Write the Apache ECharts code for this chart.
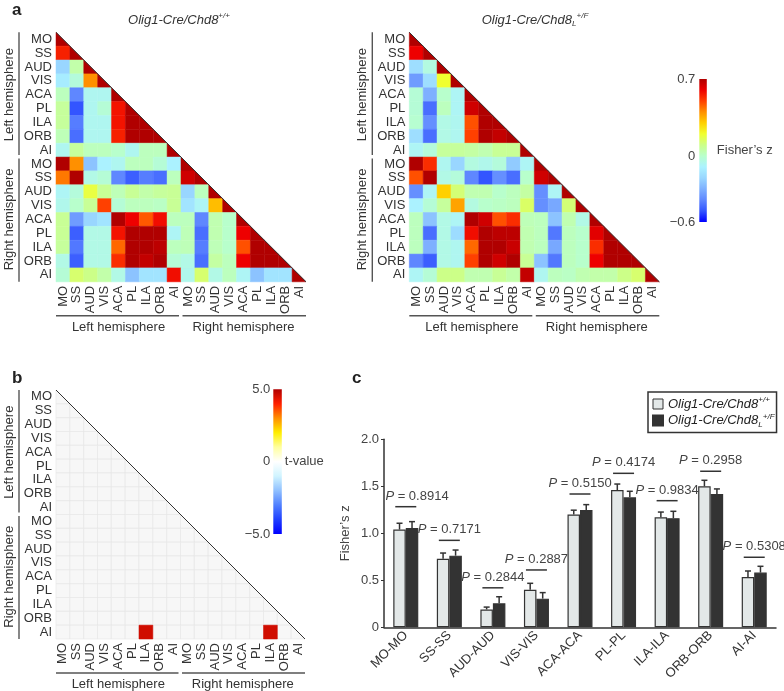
<!DOCTYPE html>
<html><head><meta charset="utf-8">
<script src="https://cdn.jsdelivr.net/npm/echarts@6/dist/echarts.min.js"></script>
<style>html,body{margin:0;padding:0;background:#fff}#c{width:784px;height:691px}</style>
</head><body><div id="c"></div>
<script>
// ---------------- data ----------------
const regions = ['MO','SS','AUD','VIS','ACA','PL','ILA','ORB','AI'];
const hemispheres = ['Left hemisphere','Right hemisphere'];

// Fisher's z, lower triangle (row r has r+1 values), Olig1-Cre/Chd8+/+
const zWT = [
 [0.7],
 [0.55,0.7],
 [-0.2,0.05,0.7],
 [-0.12,-0.03,0.4,0.7],
 [0.02,-0.4,-0.07,-0.07,0.7],
 [0.07,-0.5,-0.07,-0.02,0.57,0.7],
 [0.07,-0.42,-0.07,-0.07,0.57,0.7,0.7],
 [0.03,-0.45,-0.07,-0.07,0.55,0.7,0.7,0.7],
 [-0.07,0.07,0.02,0.02,0.0,-0.07,0.02,0.02,0.7],
 [0.7,0.4,-0.25,-0.1,-0.07,0.02,0.02,-0.02,-0.1,0.7],
 [0.43,0.7,-0.05,-0.02,-0.4,-0.48,-0.42,-0.45,0.02,0.65,0.7],
 [-0.08,-0.03,0.18,0.08,0.03,0.08,0.05,0.07,0.08,-0.2,0.02,0.7],
 [-0.06,0.0,0.08,0.5,-0.02,0.02,0.02,0.01,0.08,-0.15,-0.08,0.33,0.7],
 [0.08,-0.35,-0.2,-0.15,0.7,0.6,0.47,0.58,0.02,0.02,-0.4,0.04,0.0,0.7],
 [0.08,-0.48,-0.05,-0.05,0.57,0.7,0.7,0.7,-0.08,0.03,-0.45,0.04,0.0,0.6,0.7],
 [0.07,-0.43,-0.05,-0.05,0.45,0.7,0.7,0.68,0.02,0.03,-0.42,0.03,0.0,0.48,0.7,0.7],
 [-0.05,-0.48,-0.05,-0.05,0.53,0.7,0.67,0.7,-0.02,-0.05,-0.45,0.06,0.02,0.6,0.7,0.7,0.7],
 [-0.02,0.13,0.1,0.05,-0.05,-0.25,-0.15,-0.15,0.58,-0.06,0.13,-0.05,0.02,-0.08,-0.25,-0.15,-0.15,0.7]
];
// Fisher's z, Olig1-Cre/Chd8L+/F
const zMut = [
 [0.7],
 [0.6,0.7],
 [-0.17,-0.04,0.7],
 [-0.35,-0.17,0.2,0.7],
 [-0.02,-0.3,0.0,-0.08,0.7],
 [-0.02,-0.45,0.02,-0.08,0.65,0.7],
 [-0.01,-0.38,-0.05,-0.07,0.48,0.7,0.7],
 [-0.17,-0.45,-0.05,-0.07,0.5,0.7,0.67,0.7],
 [-0.08,-0.03,0.07,0.07,0.06,0.04,0.08,0.08,0.7],
 [0.7,0.53,-0.07,-0.2,-0.04,-0.06,-0.03,-0.23,-0.08,0.7],
 [0.48,0.7,-0.05,-0.03,-0.4,-0.5,-0.38,-0.45,0.0,0.65,0.7],
 [-0.38,-0.08,0.3,0.12,0.04,0.04,0.0,0.02,0.06,-0.38,-0.08,0.7],
 [-0.1,-0.02,0.07,0.37,-0.04,0.0,0.01,0.02,0.14,-0.38,-0.32,0.12,0.7],
 [0.02,-0.25,-0.05,-0.08,0.7,0.65,0.48,0.53,0.03,0.02,-0.25,0.04,-0.05,0.7],
 [0.02,-0.45,-0.05,-0.18,0.58,0.7,0.68,0.68,0.04,0.02,-0.43,0.02,0.0,0.62,0.7],
 [0.02,-0.3,-0.05,-0.07,0.45,0.7,0.7,0.66,0.04,0.02,-0.32,0.02,0.0,0.53,0.7,0.7],
 [-0.4,-0.48,-0.05,-0.07,0.5,0.7,0.65,0.7,0.08,-0.25,-0.43,0.02,0.0,0.6,0.7,0.7,0.7],
 [-0.08,-0.02,0.1,0.1,0.04,0.04,0.08,0.05,0.67,-0.07,0.02,0.01,0.04,0.05,0.05,0.1,0.13,0.7]
];
// significant t-values: [row, col, t]
const tSig = [[17,6,4.6],[17,15,4.6]];
const zRange = [-0.6, 0.7];
const tRange = [-5, 5];
const zTickVals = [-0.6, 0, 0.7];
const tTickVals = [-5, 0, 5];

const pairs = ['MO-MO','SS-SS','AUD-AUD','VIS-VIS','ACA-ACA','PL-PL','ILA-ILA','ORB-ORB','AI-AI'];
const wtMean = [1.04,0.73,0.19,0.40,1.20,1.46,1.17,1.50,0.535];
const wtErr  = [0.067,0.06,0.025,0.068,0.046,0.064,0.056,0.064,0.064];
const mutMean = [1.057,0.762,0.255,0.305,1.248,1.383,1.16,1.418,0.582];
const mutErr  = [0.067,0.06,0.07,0.064,0.057,0.064,0.074,0.054,0.067];
const pVals = ['0.8914','0.7171','0.2844','0.2887','0.5150','0.4174','0.9834','0.2958','0.5308'];
const pLineY = [1.283,0.925,0.42,0.61,1.418,1.638,1.347,1.66,0.745];
const barTicks = {min:0, max:2, interval:0.5};

// ---------------- styling ----------------
const FF = "'Liberation Sans', Arial, Helvetica, sans-serif";
const TXT = '#333';
const zColors = ['#0000ff','#3355ff','#5f87ff','#7eb0ff','#99d6ff','#abf2ff','#b8ffcc','#ccff88','#f0ff30','#ffd000','#ff9000','#ff4000','#ee0000','#b00000'];
const tColors = ['#0000ff','#2040ff','#5080ff','#90c0ff','#d0f4ff','#ffffff','#ffffa0','#ffee00','#ff9000','#ff2000','#b00000'];
const BAR_W = 12.5;

const labels18 = regions.concat(regions);
function triData(m){ const d=[]; m.forEach((row,r)=>row.forEach((v,c)=>d.push([c,r,v]))); return d; }
const n18 = labels18.length;
const bgCells = []; for (let r=0;r<n18;r++) for (let c=0;c<=r;c++) bgCells.push([c,r]);

function cellRender(params, api){
  const xi = api.value(0), yi = api.value(1);
  const p = api.coord([xi, yi]); const s = api.size([1,1]);
  const x0 = p[0]-s[0]/2, y0 = p[1]-s[1]/2;
  const color = api.visual('color');
  if (xi === yi) {
    return {type:'polygon', shape:{points:[[x0,y0],[x0,y0+s[1]],[x0+s[0],y0+s[1]]]}, style:{fill:color, stroke:color, lineWidth:0.5}};
  }
  return {type:'rect', shape:{x:x0,y:y0,width:s[0],height:s[1]}, style:{fill:color, stroke:color, lineWidth:0.5}};
}
function bgRender(params, api){
  const xi = api.value(0), yi = api.value(1);
  const p = api.coord([xi, yi]); const s = api.size([1,1]);
  const x0 = p[0]-s[0]/2, y0 = p[1]-s[1]/2;
  const st = {fill:'#f7f7f7', stroke:'#e6e6e6', lineWidth:0.6};
  if (xi === yi) return {type:'polygon', shape:{points:[[x0,y0],[x0,y0+s[1]],[x0+s[0],y0+s[1]]]}, style:st};
  return {type:'rect', shape:{x:x0,y:y0,width:s[0],height:s[1]}, style:st};
}
function diagRender(params, api){
  const a = api.value(0), b = api.value(1);
  const s = api.size([1,1]);
  const p0 = api.coord([a,a]), p1 = api.coord([b,b]);
  return {type:'line', shape:{x1:p0[0]-s[0]/2, y1:p0[1]-s[1]/2, x2:p1[0]+s[0]/2, y2:p1[1]+s[1]/2}, style:{stroke:'#333', lineWidth:1}};
}
function bracketRender(params, api){
  const a = api.value(0), b = api.value(1), dir = api.value(2);
  const s = api.size([1,1]);
  const pa = api.coord([a,a]), pb = api.coord([b,b]);
  const g0 = a === 0 ? 0 : 1.5, g1 = a === 0 ? -2 : 0;
  const st = {stroke:'#555', lineWidth:1.4};
  if (dir === 0) {
    const y = api.coord([0, n18-1])[1] + s[1]/2 + 34;
    return {type:'line', shape:{x1:pa[0]-s[0]/2+g0, y1:y, x2:pb[0]+s[0]/2+g1, y2:y}, style:st};
  }
  const x = api.coord([0,0])[0] - s[0]/2 - 37;
  return {type:'line', shape:{x1:x, y1:pa[1]-s[1]/2+g0, x2:x, y2:pb[1]+s[1]/2+g1}, style:st};
}
function cbarRender(colors){
  return function(params, api){
    const lo = api.value(1), hi = api.value(2);
    const pt = api.coord([0,hi]), pb = api.coord([0,lo]);
    const w = api.size([1,0])[0];
    const rev = colors.slice().reverse();
    const stops = rev.map((c,k)=>({offset:k/(rev.length-1), color:c}));
    return {type:'rect', shape:{x:pt[0]-w/2, y:pt[1], width:w, height:pb[1]-pt[1]},
      style:{fill:new echarts.graphic.LinearGradient(0,0,0,1,stops)}};
  };
}
function errRender(params, api){
  const i = api.value(0), m = api.value(1), e = api.value(2), sIdx = api.value(3);
  const p0 = api.coord([i,m]), p1 = api.coord([i,m+e]);
  const x = p0[0] + (sIdx === 0 ? -1 : 1) * BAR_W/2;
  const st = {stroke:'#333', lineWidth:1.5};
  return {type:'group', children:[
    {type:'line', shape:{x1:x,y1:p0[1],x2:x,y2:p1[1]}, style:st},
    {type:'line', shape:{x1:x-3,y1:p1[1],x2:x+3,y2:p1[1]}, style:st}
  ]};
}
function pRender(params, api){
  const i = api.value(0), yv = api.value(1);
  const p = api.coord([i,yv]);
  const band = api.size([1,0])[0];
  const left0 = api.coord([0,0])[0] - band/2;
  const tx = Math.max(p[0], left0 + 33);
  return {type:'group', children:[
    {type:'line', shape:{x1:p[0]-10.5,y1:p[1],x2:p[0]+10.5,y2:p[1]}, style:{stroke:'#333', lineWidth:1.5}},
    {type:'text', style:{text:'{i|P} = '+pVals[params.dataIndex], x:tx, y:p[1]-10.5, align:'center', verticalAlign:'middle',
      fontSize:13, fontFamily:FF, fill:'#444', rich:{i:{fontStyle:'italic', fontSize:13, fontFamily:FF, fill:'#444'}}}}
  ]};
}

// ---------------- layout ----------------
const heatGrids = [
  {left:56, top:32.3, width:250, height:249.5},
  {left:409.3, top:32.3, width:250, height:249.5},
  {left:56, top:390, width:249, height:249}
];
const grid = heatGrids.concat([
  {left:384, top:439.3, width:392, height:188},
  {left:699.3, top:79, width:7.5, height:143},
  {left:273.3, top:389.3, width:8.5, height:144.7}
]);
const xAxis = [], yAxis = [];
heatGrids.forEach((g,gi)=>{
  xAxis.push({gridIndex:gi, type:'category', data:labels18, position:'bottom', axisLine:{show:false}, axisTick:{show:false}, splitLine:{show:false},
    axisLabel:{interval:0, rotate:90, margin:4, fontSize:13, color:TXT, fontFamily:FF}});
  xAxis.push({gridIndex:gi, type:'category', data:hemispheres, position:'bottom', offset:31, axisLine:{show:false}, axisTick:{show:false},
    axisLabel:{interval:0, margin:8, fontSize:13, color:TXT, fontFamily:FF}});
  yAxis.push({gridIndex:gi, type:'category', data:labels18, inverse:true, axisLine:{show:false}, axisTick:{show:false}, splitLine:{show:false},
    axisLabel:{interval:0, margin:4, fontSize:13, color:TXT, fontFamily:FF}});
  yAxis.push({gridIndex:gi, type:'category', data:hemispheres, inverse:true, position:'left', offset:32, axisLine:{show:false}, axisTick:{show:false},
    axisLabel:{interval:0, rotate:90, margin:8, fontSize:13, color:TXT, fontFamily:FF}});
});
// bar chart axes (x6, y6)
xAxis.push({gridIndex:3, type:'category', data:pairs, axisLine:{lineStyle:{color:'#333', width:1.5}}, axisTick:{show:false},
  axisLabel:{interval:0, rotate:45, margin:6, fontSize:13, color:TXT, fontFamily:FF}});
yAxis.push({gridIndex:3, type:'value', min:barTicks.min, max:barTicks.max, interval:barTicks.interval,
  axisLine:{show:true, lineStyle:{color:'#333', width:1.5}}, axisTick:{show:true, length:3, lineStyle:{color:'#333'}}, splitLine:{show:false},
  axisLabel:{margin:5, fontSize:13, color:'#444', fontFamily:FF, formatter:v=> v===0 ? '0' : v.toFixed(1)},
  name:'Fisher’s z', nameLocation:'middle', nameGap:32, nameTextStyle:{fontSize:13, color:'#444', fontFamily:FF}});
// colorbar axes
const fmtZ = v => v===0 ? '0' : (v<0 ? '\u2212'+Math.abs(v).toFixed(1) : v.toFixed(1));
xAxis.push({gridIndex:4, type:'category', data:['z'], show:false});
xAxis.push({gridIndex:5, type:'category', data:['t'], show:false});
yAxis.push({gridIndex:4, type:'value', min:zRange[0], max:zRange[1], axisLine:{show:false}, axisTick:{show:false}, splitLine:{show:false},
  axisLabel:{customValues:zTickVals, formatter:fmtZ, margin:4, fontSize:13, color:'#444', fontFamily:FF}});
yAxis.push({gridIndex:4, type:'value', position:'right', min:zRange[0], max:zRange[1], axisLine:{show:false}, axisTick:{show:false}, splitLine:{show:false},
  axisLabel:{show:false}, name:'Fisher’s z', nameLocation:'middle', nameRotate:0, nameGap:10, nameTextStyle:{fontSize:13, color:'#444', fontFamily:FF}});
yAxis.push({gridIndex:5, type:'value', min:tRange[0], max:tRange[1], axisLine:{show:false}, axisTick:{show:false}, splitLine:{show:false},
  axisLabel:{customValues:tTickVals, formatter:fmtZ, margin:3, fontSize:13, color:'#444', fontFamily:FF}});
yAxis.push({gridIndex:5, type:'value', position:'right', min:tRange[0], max:tRange[1], axisLine:{show:false}, axisTick:{show:false}, splitLine:{show:false},
  axisLabel:{show:false}, name:'t-value', nameLocation:'middle', nameRotate:0, nameGap:3, nameTextStyle:{fontSize:13, color:'#444', fontFamily:FF}});

const bracketData = [[0,8,0],[9,17,0],[0,8,1],[9,17,1]];
const series = [];
function heatSeries(ai, data){
  series.push({type:'custom', xAxisIndex:ai, yAxisIndex:ai, renderItem:cellRender, data:data, silent:true, clip:false, z:2});
  series.push({type:'custom', xAxisIndex:ai, yAxisIndex:ai, renderItem:diagRender, data:[[0,n18-1]], silent:true, clip:false, z:3});
  series.push({type:'custom', xAxisIndex:ai, yAxisIndex:ai, renderItem:bracketRender, data:bracketData, silent:true, clip:false, z:3});
}
heatSeries(0, triData(zWT));          // 0,1,2
heatSeries(2, triData(zMut));         // 3,4,5
series.push({type:'custom', xAxisIndex:4, yAxisIndex:4, renderItem:bgRender, data:bgCells, silent:true, clip:false, z:1}); // 6
series.push({type:'custom', xAxisIndex:4, yAxisIndex:4, renderItem:cellRender, data:tSig.map(d=>[d[1],d[0],d[2]]), silent:true, clip:false, z:2}); // 7
series.push({type:'custom', xAxisIndex:4, yAxisIndex:4, renderItem:diagRender, data:[[0,n18-1]], silent:true, clip:false, z:3}); // 8
series.push({type:'custom', xAxisIndex:4, yAxisIndex:4, renderItem:bracketRender, data:bracketData, silent:true, clip:false, z:3}); // 9
series.push({name:'WT', type:'bar', xAxisIndex:6, yAxisIndex:6, data:wtMean, barWidth:BAR_W, barGap:'0%',
  itemStyle:{color:'#e3e8e8', borderColor:'#333', borderWidth:1.2}, silent:true}); // 10
series.push({name:'Mut', type:'bar', xAxisIndex:6, yAxisIndex:6, data:mutMean, barWidth:BAR_W, barGap:'0%',
  itemStyle:{color:'#333', borderColor:'#333', borderWidth:1.2}, silent:true}); // 11
series.push({type:'custom', xAxisIndex:6, yAxisIndex:6, renderItem:errRender, silent:true, clip:false, z:5,
  data: wtMean.map((m,i)=>[i,m,wtErr[i],0]).concat(mutMean.map((m,i)=>[i,m,mutErr[i],1]))}); // 12
series.push({type:'custom', xAxisIndex:6, yAxisIndex:6, renderItem:pRender, silent:true, clip:false, z:5,
  data: pLineY.map((v,i)=>[i,v])}); // 13
series.push({type:'custom', xAxisIndex:7, yAxisIndex:7, renderItem:cbarRender(zColors), data:[[0,zRange[0],zRange[1]]], silent:true, clip:false}); // 14
series.push({type:'custom', xAxisIndex:8, yAxisIndex:9, renderItem:cbarRender(tColors), data:[[0,tRange[0],tRange[1]]], silent:true, clip:false}); // 15

const titleRich = {
  t:{fontSize:13, fontStyle:'italic', fontFamily:FF, fill:'#333', lineHeight:16},
  sup:{fontSize:8, fontStyle:'italic', fontFamily:FF, fill:'#333', lineHeight:9, verticalAlign:'top'},
  sub:{fontSize:8, fontStyle:'italic', fontFamily:FF, fill:'#333', lineHeight:9, verticalAlign:'bottom'}
};
const legendRich = {
  t:{fontSize:13, fontStyle:'italic', fontFamily:FF, color:'#222', lineHeight:16},
  sup:{fontSize:8, fontStyle:'italic', fontFamily:FF, color:'#222', lineHeight:9, verticalAlign:'top'},
  sub:{fontSize:8, fontStyle:'italic', fontFamily:FF, color:'#222', lineHeight:9, verticalAlign:'bottom'}
};
const wtLabel = '{t|Olig1-Cre/Chd8}{sup|+/+}';
const mutLabel = '{t|Olig1-Cre/Chd8}{sub|L}{sup|+/F}';

const option = {
  animation:false,
  backgroundColor:'#fff',
  textStyle:{fontFamily:FF},
  grid: grid,
  xAxis: xAxis,
  yAxis: yAxis,
  visualMap:[
    {type:'continuous', show:false, min:zRange[0], max:zRange[1], dimension:2, seriesIndex:[0,3], inRange:{color:zColors}},
    {type:'continuous', show:false, min:tRange[0], max:tRange[1], dimension:2, seriesIndex:[7], inRange:{color:tColors}}
  ],
  legend:{show:true, left:648, top:392, orient:'vertical', padding:[4,2,4,4], itemGap:2, itemWidth:10, itemHeight:10,
    borderColor:'#333', borderWidth:1.5, backgroundColor:'#fff',
    data:[{name:'WT', icon:'rect', itemStyle:{color:'#e3e8e8', borderColor:'#333', borderWidth:1}}, {name:'Mut', icon:'rect', itemStyle:{color:'#333'}}],
    formatter: name => name === 'WT' ? wtLabel : mutLabel,
    textStyle:{rich:legendRich}, selectedMode:false},
  graphic:[
    {type:'text', x:12, y:10, style:{text:'a', fontSize:17, fontWeight:'bold', fontFamily:FF, fill:'#222', verticalAlign:'middle'}},
    {type:'text', x:12, y:378, style:{text:'b', fontSize:17, fontWeight:'bold', fontFamily:FF, fill:'#222', verticalAlign:'middle'}},
    {type:'text', x:352, y:378, style:{text:'c', fontSize:17, fontWeight:'bold', fontFamily:FF, fill:'#222', verticalAlign:'middle'}},
    {type:'text', x:179, y:20, style:{text:wtLabel, align:'center', verticalAlign:'middle', rich:titleRich}},
    {type:'text', x:535, y:20, style:{text:mutLabel, align:'center', verticalAlign:'middle', rich:titleRich}}
  ],
  series: series
};
const chart = echarts.init(document.getElementById('c'), null, {renderer:'canvas'});
chart.setOption(option);
</script></body></html>
